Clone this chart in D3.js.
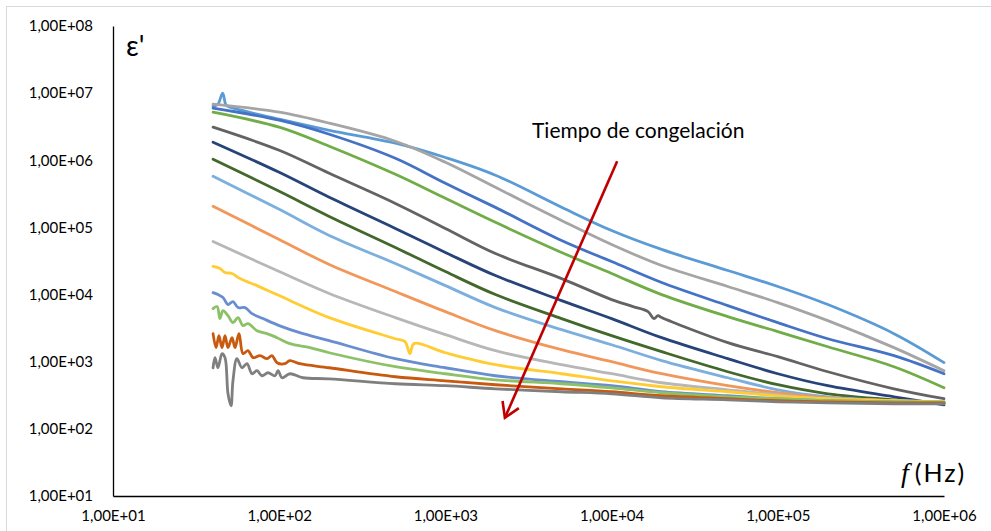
<!DOCTYPE html>
<html>
<head>
<meta charset="utf-8">
<script src="https://cdn.jsdelivr.net/npm/d3@7"></script>
<style>
  html, body { margin: 0; padding: 0; background: #fff; }
  svg { display: block; font-family: Lato, "Open Sans", sans-serif; }
</style>
</head>
<body>
<svg id="chart" width="991" height="531"></svg>
<script>
// Frequency grid (Hz) shared by every sample
const freqHz = [40, 100, 200, 500, 1e3, 2e3, 5e3, 1e4, 2e4, 5e4, 1e5, 2e5, 5e5, 1e6];

// Axis ticks and their labels
const xTicks = [1e1, 1e2, 1e3, 1e4, 1e5, 1e6];
const xTickLabels = ["1,00E+01", "1,00E+02", "1,00E+03", "1,00E+04", "1,00E+05", "1,00E+06"];
const yTicks = [1e1, 1e2, 1e3, 1e4, 1e5, 1e6, 1e7, 1e8];
const yTickLabels = ["1,00E+01", "1,00E+02", "1,00E+03", "1,00E+04", "1,00E+05", "1,00E+06", "1,00E+07", "1,00E+08"];

// Real permittivity ε' of each sample on the frequency grid,
// ordered by increasing freezing time
const eps01 = [6.4e6, 4.09e6, 2.8e6, 1.8e6, 1.1e6, 6.0e5, 2.0e5, 9.0e4, 4.7e4, 2.28e4, 1.32e4, 7.1e3, 2.62e3, 970];
const eps02 = [6.85e6, 5.2e6, 3.57e6, 1.92e6, 9.33e5, 3.95e5, 1.27e5, 5.57e4, 2.71e4, 1.32e4, 7.6e3, 4.09e3, 1.62e3, 734];
const eps03 = [5.97e6, 3.95e6, 2.44e6, 1.07e6, 4.54e5, 1.99e5, 6.4e4, 3.11e4, 1.51e4, 6.85e3, 3.82e3, 2.2e3, 1.23e3, 662];
const eps04 = [5.2e6, 3.11e6, 1.62e6, 6.18e5, 2.71e5, 1.19e5, 4.24e4, 2.06e4, 1.0e4, 4.7e3, 2.81e3, 1.67e3, 842, 409];
const eps05 = [3.11e6, 1.41e6, 6.4e5, 2.28e5, 9.66e4, 4.09e4, 1.73e4, 8.42e3, 4.54e3, 1.92e3, 1.19e3, 709, 395, 281];
const eps06 = [1.86e6, 6.62e5, 2.81e5, 9.66e4, 4.24e4, 1.92e4, 8.13e3, 4.39e3, 2.28e3, 1.11e3, 662, 439, 300, 228];
const eps07 = [1.04e6, 3.45e5, 1.46e5, 5.03e4, 2.2e4, 1.0e4, 4.39e3, 2.44e3, 1.41e3, 709, 454, 333, 271, 244];
const eps08 = [5.77e5, 1.86e5, 7.6e4, 2.9e4, 1.36e4, 6.4e3, 3.0e3, 1.79e3, 1.04e3, 577, 382, 300, 262, 244];
const eps09 = [2.06e5, 6.62e4, 2.81e4, 1.11e4, 5.57e3, 2.9e3, 1.51e3, 1.0e3, 662, 439, 345, 290, 262, 244];
const eps10 = [6.18e4, 2.2e4, 1.04e4, 4.54e3, 2.53e3, 1.46e3, 902, 662, 486, 382, 322, 281, 262, 253];
const eps11 = [2.62e4, 9.66e3, 4.54e3, 2.2e3, 1.36e3, 902, 662, 520, 424, 357, 311, 281, 262, 253];
const eps12 = [1.07e4, 3.45e3, 2.06e3, 1.11e3, 813, 618, 503, 439, 357, 311, 281, 262, 253, 244];
const eps13 = [6.18e3, 2.28e3, 1.36e3, 842, 662, 538, 470, 409, 345, 300, 281, 262, 253, 253];
const eps14 = [2.62e3, 1.15e3, 813, 597, 520, 454, 395, 357, 311, 281, 262, 253, 244, 244];
const eps15 = [813, 662, 557, 470, 439, 395, 357, 333, 290, 271, 253, 244, 236, 236];

// Denser [Hz, ε'] readings where a trace is noisy or has a glitch
const detail01 = [[40, 6.4e6], [42.8, 6.85e6], [45.7, 1.0e7], [47.9, 6.62e6], [50.6, 6.18e6]];
const detail05 = [[13460, 6620], [16560, 5570], [17990, 4390], [19010, 4860]];
const detail11a = [[40, 2.62e4], [44, 2.44e4], [47.2, 2.13e4], [52, 2.06e4], [58.1, 1.73e4], [73.5, 1.36e4]];
const detail11b = [[571, 1990], [612, 1320], [647, 1860]];
const detail12 = [[40, 1.07e4], [42.8, 1.0e4], [45.9, 9020], [49.2, 7100], [52.7, 7870], [56.5, 6400],
                  [62.3, 6400], [68.6, 5200], [79.9, 4390], [100, 3450], [133, 2710]];
const detail13 = [[40, 6180], [42.3, 6620], [44, 4390], [45.9, 5770], [49.2, 4860], [52.7, 3820], [56.5, 4540],
                  [60.6, 3450], [64.9, 3690], [73.5, 2900], [84.5, 2620], [97, 2280], [116, 1860], [153, 1620]];
const detail14 = [[40, 2620], [41.7, 1620], [43.4, 2440], [45.3, 1620], [47.2, 2440], [49.2, 1620], [52, 2280],
                  [54.2, 1620], [57.3, 2620], [60.6, 1320], [64.9, 1460], [69.6, 1150], [76.6, 1230], [84.5, 1110],
                  [90.5, 1230], [97, 966], [108, 933], [116, 1040], [133, 933]];
const detail15 = [[40, 813], [41.1, 1150], [42.8, 813], [45.3, 1320], [47.2, 1150], [49.2, 333], [51.3, 220],
                  [52.7, 520], [55.7, 1110], [59.7, 813], [64, 933], [68.6, 662], [73.5, 734], [78.8, 618],
                  [85.6, 685], [94.3, 618], [98.4, 734], [104, 577], [116, 662], [139, 577]];

// Annotation arrow and its caption, in data coordinates [Hz, ε']
const arrowFrom = [1.08e4, 9.7e5];
const arrowTo = [2.28e3, 146];
const arrowText = "Tiempo de congelación";
const arrowTextAt = [3.32e3, 2.13e6];

// Line colours, one per sample
const palette = ["#5B9BD5", "#A5A5A5", "#4472C4", "#70AD47", "#636363", "#264478", "#43682B", "#7CAFDD",
                 "#F1975A", "#B7B7B7", "#FFCD33", "#698ED0", "#8CC168", "#C9590F", "#7F7F7F"];

const samples = [
  { values: eps01, details: [detail01] },
  { values: eps02, details: [] },
  { values: eps03, details: [] },
  { values: eps04, details: [] },
  { values: eps05, details: [detail05] },
  { values: eps06, details: [] },
  { values: eps07, details: [] },
  { values: eps08, details: [] },
  { values: eps09, details: [] },
  { values: eps10, details: [] },
  { values: eps11, details: [detail11a, detail11b] },
  { values: eps12, details: [detail12] },
  { values: eps13, details: [detail13] },
  { values: eps14, details: [detail14] },
  { values: eps15, details: [detail15] }
];

// Merge grid points with the denser readings: inside a detail span the grid point is dropped
function pointsOf(s) {
  let pts = freqHz.map((f, i) => [f, s.values[i]]);
  s.details.forEach(d => {
    const lo = d[0][0], hi = d[d.length - 1][0];
    pts = pts.filter(p => p[0] < lo || p[0] > hi).concat(d);
  });
  return pts.sort((a, b) => a[0] - b[0]);
}

const svg = d3.select("#chart");

// Chart area frame
svg.append("rect")
  .attr("x", 6.5).attr("y", 6.5).attr("width", 1100).attr("height", 1100)
  .attr("fill", "none").attr("stroke", "#D9D9D9").attr("stroke-width", 1);

const x = d3.scaleLog().domain([10, 1e6]).range([113, 944]);
const y = d3.scaleLog().domain([10, 1e8]).range([496, 26]);

const line = d3.line()
  .x(d => x(d[0]))
  .y(d => y(d[1]))
  .curve(d3.curveCatmullRom.alpha(0.5));

svg.append("g")
  .selectAll("path")
  .data(samples)
  .join("path")
  .attr("d", s => line(pointsOf(s)))
  .attr("fill", "none")
  .attr("stroke", (s, i) => palette[i])
  .attr("stroke-width", 2.8)
  .attr("stroke-linejoin", "round")
  .attr("stroke-linecap", "round");

// Axes
const yAxis = d3.axisLeft(y)
  .tickValues(yTicks)
  .tickSize(0)
  .tickSizeOuter(0)
  .tickPadding(20)
  .tickFormat((d, i) => yTickLabels[i]);

const xAxis = d3.axisBottom(x)
  .tickValues(xTicks)
  .tickSize(0)
  .tickSizeOuter(0)
  .tickPadding(14)
  .tickFormat((d, i) => xTickLabels[i]);

const gy = svg.append("g").attr("transform", "translate(" + x(10) + ",0)").call(yAxis);
const gx = svg.append("g").attr("transform", "translate(0," + y(10) + ")").call(xAxis);

[gx, gy].forEach(g => {
  g.select(".domain").attr("stroke", "#000").attr("stroke-width", 1.3);
  g.selectAll("text")
    .attr("font-family", "Lato, 'Open Sans', sans-serif")
    .attr("font-size", 15)
    .attr("fill", "#000");
});

// Axis titles
svg.append("text")
  .attr("x", 126).attr("y", 56)
  .attr("font-size", 28)
  .attr("fill", "#000")
  .text("ε'");

const ft = svg.append("text")
  .attr("x", 901).attr("y", 482)
  .attr("fill", "#000");
ft.append("tspan")
  .attr("font-family", "'Liberation Serif', serif")
  .attr("font-style", "italic")
  .attr("font-size", 28)
  .text("f");
ft.append("tspan")
  .attr("dx", 6)
  .attr("font-size", 25)
  .attr("letter-spacing", 2)
  .text("(Hz)");

// Freezing-time arrow
const ax0 = x(arrowFrom[0]), ay0 = y(arrowFrom[1]);
const ax1 = x(arrowTo[0]), ay1 = y(arrowTo[1]);
const ang = Math.atan2(ay0 - ay1, ax0 - ax1);
const headLen = 17, headAng = 0.55;
svg.append("line")
  .attr("x1", ax0).attr("y1", ay0).attr("x2", ax1).attr("y2", ay1)
  .attr("stroke", "#C00000").attr("stroke-width", 2.6);
svg.append("path")
  .attr("d", "M" + (ax1 + headLen * Math.cos(ang - headAng)) + "," + (ay1 + headLen * Math.sin(ang - headAng)) +
             "L" + ax1 + "," + ay1 +
             "L" + (ax1 + headLen * Math.cos(ang + headAng)) + "," + (ay1 + headLen * Math.sin(ang + headAng)))
  .attr("fill", "none")
  .attr("stroke", "#C00000").attr("stroke-width", 2.6)
  .attr("stroke-linejoin", "miter");

svg.append("text")
  .attr("x", x(arrowTextAt[0])).attr("y", y(arrowTextAt[1]))
  .attr("font-size", 21)
  .attr("fill", "#000")
  .text(arrowText);
</script>
</body>
</html>
